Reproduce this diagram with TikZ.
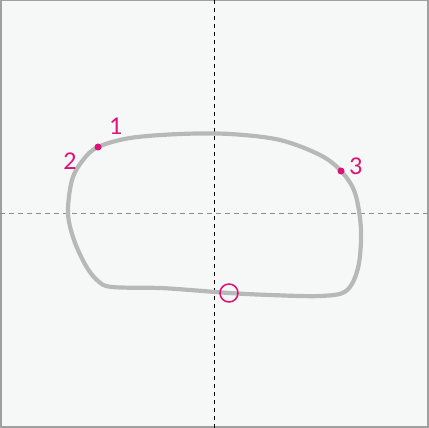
\documentclass[tikz,border=0pt]{standalone}
\usepackage{fontspec}
\setmainfont{Lato}
\begin{document}
\begin{tikzpicture}[x=1pt,y=-1pt,
  curveline/.style={line width=4.2pt,color=curvegray,line join=round},
  dotpt/.style={circle,fill=mag,inner sep=0pt,minimum size=7pt},
  lbl/.style={text=mag,font=\fontsize{23}{23}\selectfont,inner sep=0pt},
  axisv/.style={black,line width=0.9pt,dash pattern=on 4pt off 4pt},
  axish/.style={axisgray,line width=1pt,dash pattern=on 5pt off 4pt}]
\definecolor{bg}{HTML}{F6F8F7}
\definecolor{curvegray}{HTML}{B8B8B8}
\definecolor{mag}{HTML}{DD1177}
\definecolor{axisgray}{HTML}{8C8C8C}
\definecolor{framegray}{HTML}{A0A0A0}
\useasboundingbox (0,0) rectangle (429,428);
\fill[bg] (0,0) rectangle (429,428);
\draw[framegray,line width=1.5pt] (0.75,0.75) rectangle (428,427);
\coordinate (vtop) at (214,0);
\coordinate (vbot) at (214,428);
\coordinate (hl) at (0,213);
\coordinate (hr) at (429,213);
\draw[axish] (hl) -- (hr);
\draw[axisv] (vtop) -- (vbot);
\draw[curveline] plot[smooth cycle,tension=0.55] coordinates {
 (98,147) (130,138) (180,134) (230,134) (280,140) (320,155) (341,171)
 (355,193) (361,230) (358,268) (346,291) (320,296) (270,295) (229,293)
 (190,290) (160,288) (112,287) (98,281) (86,266) (74,240) (68,213)
 (72,180) (83,160)};
\node[dotpt] (p1) at (98,147) {};
\node[dotpt] (p3) at (341,171) {};
\node[circle,draw=mag,line width=1.5pt,minimum size=18pt,inner sep=0pt] (c) at (229,293) {};
\node[lbl] (l1) at (116,126) {1};
\node[lbl] (l2) at (70,161) {2};
\node[lbl] (l3) at (356,166) {3};
\end{tikzpicture}
\end{document}
